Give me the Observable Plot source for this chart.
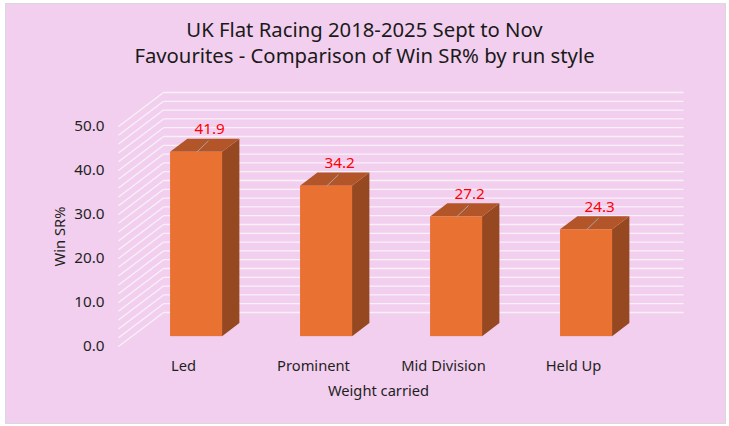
<!DOCTYPE html>
<html>
<head>
<meta charset="utf-8">
<script src="https://cdn.jsdelivr.net/npm/d3@7"></script>
<script src="https://cdn.jsdelivr.net/npm/@observablehq/plot@0.6"></script>
<style>
  html, body { margin: 0; padding: 0; background: #ffffff; }
  #frame { position: relative; width: 729px; height: 426px; overflow: hidden; }
  #panel { position: absolute; left: 5px; top: 3px; width: 719px; height: 419px;
           background: #F2CFEE; border: 1px solid #D9D9D9; }
  #title { position: absolute; left: 0; top: 16px; width: 729px; text-align: center;
           font-family: "Noto Sans", sans-serif; font-size: 20.3px; line-height: 26px; color: #1a1a1a; }
  #chart { position: absolute; left: 0; top: 0; }
</style>
</head>
<body>
<div id="frame">
  <div id="panel"></div>
  <div id="chart"></div>
  <div id="title">UK Flat Racing 2018-2025 Sept to Nov<br>Favourites - Comparison of Win SR% by run style</div>
</div>
<script>
// ---- data ----
const categories = ["Led", "Prominent", "Mid Division", "Held Up"];
const winSR = [41.9, 34.2, 27.2, 24.3];
const yTicks = [0, 10, 20, 30, 40, 50];
const gridLines = [0, 2, 4, 6, 8, 10, 12, 14, 16, 18, 20, 22, 24, 26, 28, 30, 32, 34, 36, 38, 40, 42, 44, 46, 48, 50];
const xTitle = "Weight carried";
const yTitle = "Win SR%";

// ---- layout (pixels) ----
const W = 729, H = 426;
const mL = 118, mR = 729 - 638, mT = 126, mB = 426 - 346;
const pxX = 4 / (638 - 118);   // x data units per pixel
const pxY = 50 / (346 - 126);  // y data units per pixel
const depthX = 45 * pxX, depthY = 34 * pxY;     // full floor depth
const f0 = 0.29, fb = 0.385;                      // bar front depth fraction, bar depth fraction
const fx = f0 * depthX, fy = f0 * depthY;
const bx = fb * depthX, by = fb * depthY;
const barL = 0.3, barR = 0.7;

const bars = categories.map((c, i) => ({c, i, v: winSR[i]}));

const sidePts = bars.flatMap(b => [
  {c: b.c, x: b.i + barR + fx, y1: fy, y2: b.v + fy},
  {c: b.c, x: b.i + barR + fx + bx, y1: fy + by, y2: b.v + fy + by}
]);
const topPts = bars.flatMap(b => [
  {c: b.c, y: b.v + fy, x1: b.i + barL + fx, x2: b.i + barR + fx},
  {c: b.c, y: b.v + fy + by, x1: b.i + barL + fx + bx, x2: b.i + barR + fx + bx}
]);

const gridColor = "#F8F2F7";
const textColor = "#1f1f1f";

const plot = Plot.plot({
  width: W, height: H,
  marginLeft: mL, marginRight: mR, marginTop: mT, marginBottom: mB,
  style: {background: "transparent", fontFamily: "Noto Sans, sans-serif"},
  x: {domain: [0, 4], axis: null},
  y: {domain: [0, 50], axis: null},
  marks: [
    // side wall grid lines
    Plot.link(gridLines, {x1: 0, y1: d => d, x2: depthX, y2: d => d + depthY, stroke: gridColor, strokeWidth: 1.3}),
    // back wall grid lines
    Plot.link(gridLines, {x1: depthX, y1: d => d + depthY, x2: 4 + depthX, y2: d => d + depthY, stroke: gridColor, strokeWidth: 1.3}),
    // bars: side, top, front
    Plot.areaY(sidePts, {x: "x", y1: "y1", y2: "y2", z: "c", fill: "#964820", curve: "linear"}),
    Plot.areaX(topPts, {y: "y", x1: "x1", x2: "x2", z: "c", fill: "#B25528", curve: "linear"}),
    Plot.rect(bars, {x1: d => d.i + barL + fx, x2: d => d.i + barR + fx, y1: fy, y2: d => d.v + fy, fill: "#E97132"}),
    // leader lines
    Plot.link(bars, {
      x1: d => d.i + 0.5 + fx, y1: d => d.v + fy,
      x2: d => d.i + 0.5 + fx + 12 * pxX, y2: d => d.v + fy + 11.5 * pxY,
      stroke: "#A6A6A6", strokeWidth: 1
    }),
    // data labels
    Plot.text(bars, {
      x: d => d.i + 0.5 + fx + 13 * pxX, y: d => d.v + fy + 23 * pxY,
      text: d => d.v.toFixed(1), fill: "#FF0000", fontSize: 15.3
    }),
    // y tick labels
    Plot.text(yTicks, {x: 0, y: d => d, text: d => d.toFixed(1), textAnchor: "end", dx: -14, fill: textColor, fontSize: 15.3}),
    // x category labels
    Plot.text(bars, {x: d => d.i + 0.5, y: 0, text: "c", dy: 20, fill: textColor, fontSize: 14.7}),
    // axis titles
    Plot.text([xTitle], {x: 2, y: 0, text: d => d, dx: 0, dy: 44.5, fill: textColor, fontSize: 14.7}),
    Plot.text([yTitle], {x: 0, y: 25, text: d => d, dx: -58, rotate: -90, fill: textColor, fontSize: 14.7})
  ]
});
document.getElementById("chart").appendChild(plot);
</script>
</body>
</html>
